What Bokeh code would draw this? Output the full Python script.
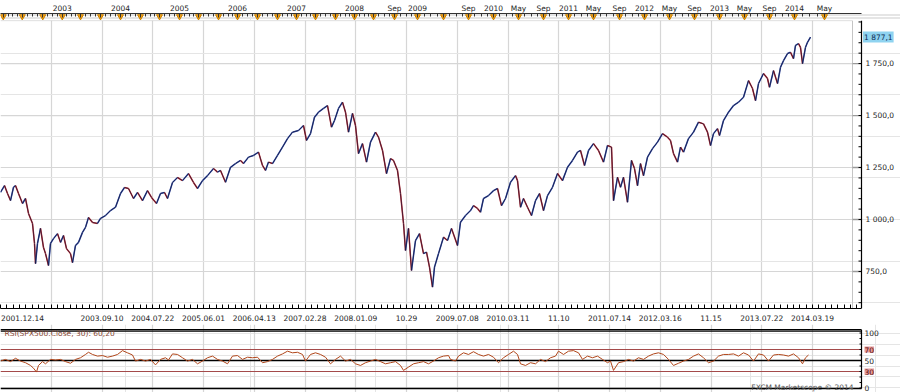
from bokeh.plotting import figure
from bokeh.models import (Range1d, FixedTicker, LinearAxis, Label, Grid)
from bokeh.layouts import column
from bokeh.embed import file_html
from bokeh.resources import INLINE
from bokeh.core.properties import value

FONT = "DejaVu Sans"

# ---------------- data (bar index / values) ----------------
price_bar = [0, 16, 28, 40, 52, 60, 72, 88, 100, 112,
             128, 136, 140, 148, 160, 172, 180, 192, 200, 212,
             228, 240, 252, 264, 280, 288, 300, 312, 328, 340,
             352, 368, 388, 400, 420, 440, 460, 480, 496, 512,
             532, 548, 568, 588, 604, 624, 640, 656, 668, 688,
             708, 728, 752, 772, 788, 808, 828, 852, 868, 880,
             900, 920, 940, 960, 972, 992, 1012, 1032, 1048, 1060,
             1072, 1088, 1108, 1128, 1148, 1168, 1192, 1212, 1224, 1240,
             1256, 1272, 1292, 1308, 1324, 1336, 1352, 1368, 1380, 1392,
             1408, 1420, 1432, 1448, 1464, 1480, 1500, 1512, 1528, 1544,
             1560, 1572, 1588, 1600, 1612, 1620, 1632, 1644, 1660, 1676,
             1692, 1704, 1716, 1728, 1736, 1752, 1772, 1788, 1804, 1828,
             1840, 1860, 1880, 1892, 1908, 1920, 1932, 1952, 1972, 1988,
             2004, 2020, 2040, 2060, 2068, 2080, 2092, 2108, 2124, 2140,
             2156, 2172, 2188, 2208, 2228, 2248, 2268, 2288, 2308, 2320,
             2336, 2352, 2372, 2392, 2412, 2428, 2444, 2452, 2468, 2480,
             2492, 2508, 2524, 2536, 2548, 2560, 2572, 2588, 2608, 2628,
             2648, 2668, 2680, 2692, 2708, 2720, 2732, 2752, 2772, 2792,
             2812, 2828, 2840, 2852, 2868, 2876, 2892, 2912, 2932, 2952,
             2972, 2992, 3008, 3020, 3032, 3052, 3068, 3076, 3092, 3108,
             3120, 3132, 3148, 3160, 3172, 3180, 3192, 3200, 3208, 3220,
             3228, 3240]
price_close = [1131, 1163, 1125, 1091, 1155, 1163, 1125, 1077, 1101, 1029,
               981, 885, 788, 885, 957, 865, 836, 779, 885, 908,
               932, 890, 923, 860, 836, 793, 875, 890, 938, 962,
               1010, 986, 981, 1005, 1019, 1043, 1059, 1125, 1154, 1149,
               1101, 1130, 1091, 1139, 1106, 1077, 1125, 1130, 1101, 1178,
               1202, 1187, 1221, 1178, 1149, 1187, 1211, 1245, 1228, 1236,
               1179, 1251, 1269, 1284, 1269, 1300, 1308, 1324, 1260, 1236,
               1276, 1269, 1308, 1348, 1389, 1420, 1428, 1452, 1380, 1413,
               1492, 1516, 1534, 1548, 1444, 1476, 1534, 1564, 1516, 1420,
               1510, 1452, 1317, 1365, 1276, 1372, 1420, 1396, 1332, 1221,
               1293, 1284, 1236, 1125, 981, 851, 957, 755, 899, 932,
               836, 843, 771, 675, 771, 836, 915, 899, 957, 875,
               987, 1019, 1043, 1067, 1053, 1035, 1101, 1115, 1139, 1149,
               1067, 1101, 1179, 1211, 1187, 1059, 1101, 1059, 1019, 1091,
               1125, 1043, 1115, 1155, 1221, 1187, 1251, 1284, 1324, 1332,
               1260, 1332, 1365, 1332, 1276, 1356, 1348, 1091, 1203, 1155,
               1203, 1083, 1284, 1245, 1163, 1269, 1211, 1300, 1341, 1372,
               1413, 1396, 1380, 1317, 1276, 1348, 1324, 1389, 1420, 1468,
               1460, 1420, 1356, 1413, 1437, 1404, 1476, 1516, 1548, 1564,
               1588, 1668, 1630, 1572, 1654, 1702, 1678, 1636, 1716, 1654,
               1732, 1764, 1798, 1804, 1774, 1837, 1846, 1828, 1750, 1828,
               1852, 1877]
last_price = 1877.1
last_price_label = "1 877,1"

rsi_bar = [0, 20, 40, 60, 80, 100, 120, 132, 144, 152,
           168, 180, 200, 220, 240, 260, 280, 300, 320, 340,
           352, 368, 388, 408, 428, 448, 468, 488, 508, 528,
           540, 560, 580, 600, 620, 640, 660, 672, 688, 708,
           728, 748, 768, 788, 808, 828, 848, 868, 888, 908,
           928, 948, 968, 988, 1008, 1028, 1048, 1068, 1088, 1108,
           1128, 1148, 1168, 1188, 1208, 1220, 1240, 1260, 1280, 1300,
           1320, 1340, 1360, 1380, 1400, 1420, 1440, 1460, 1480, 1500,
           1520, 1540, 1560, 1580, 1600, 1612, 1632, 1652, 1672, 1692,
           1712, 1732, 1752, 1772, 1792,
           1800, 1820, 1832, 1852, 1872, 1892, 1912, 1932, 1952, 1972,
           1992, 2012, 2032, 2052, 2068, 2080, 2100, 2120, 2140, 2160,
           2180, 2200, 2220, 2232, 2252, 2272, 2292, 2312, 2328, 2348,
           2368, 2388, 2408, 2428, 2440, 2452, 2472, 2492, 2512, 2532,
           2552, 2572, 2592, 2612, 2632, 2652, 2672, 2692, 2712, 2732,
           2752, 2772, 2792, 2812, 2832, 2852, 2872, 2892, 2912, 2932,
           2952, 2972, 2992, 3012, 3032, 3052, 3072, 3092, 3112, 3132,
           3152, 3172, 3192, 3208, 3220, 3232]
rsi_val = [49, 52, 48, 54, 49, 46, 41, 36, 29, 41,
           48, 44, 52, 51, 52, 48, 45, 52, 55, 61,
           65, 61, 58, 59, 56, 58, 61, 68, 64, 60,
           49, 52, 49, 52, 42, 52, 55, 51, 62, 61,
           55, 49, 52, 44, 49, 55, 58, 52, 49, 44,
           58, 59, 52, 56, 55, 56, 46, 48, 52, 58,
           62, 67, 64, 65, 61, 49, 61, 64, 61, 56,
           44, 52, 58, 49, 52, 44, 41, 46, 49, 52,
           48, 44, 46, 48, 41, 32, 38, 44, 46, 48,
           44, 49, 55, 58, 59,
           52, 49, 58, 64, 61, 66, 61, 58, 61, 56,
           46, 55, 61, 67, 61, 44, 41, 46, 44, 52,
           48, 55, 58, 67, 61, 67, 68, 64, 52, 58,
           55, 58, 52, 46, 49, 32, 46, 48, 52, 49,
           55, 52, 58, 62, 64, 61, 52, 41, 45, 49,
           52, 58, 62, 55, 46, 49, 58, 61, 61, 62,
           58, 64, 60, 49, 62, 60, 49, 60, 61, 60,
           58, 62, 55, 44, 55, 60]
rsi_title = "RSI(SPX500.Close, 30): 60,20"
rsi_ticks = [100, 50, 0]
rsi_tick_labels = ["100", "50", "0"]
rsi_bands = [70, 30]
rsi_levels = [30, 50, 70]

grid_bars = [0, 203, 406, 609, 812, 1015, 1218, 1421, 1624, 1827,
             2030, 2233, 2436, 2639, 2842, 3045, 3248]
date_bars = [88, 406, 609, 812, 1015, 1218, 1421, 1624, 1827,
             2030, 2233, 2436, 2639, 2842, 3045, 3248]
date_labels = ["2001.12.14", "2003.09.10", "2004.07.22", "2005.06.01", "2006.04.13",
               "2007.02.28", "2008.01.09", "10.29", "2009.07.08", "2010.03.11",
               "11.10", "2011.07.14", "2012.03.16", "11.15", "2013.07.22", "2014.03.19"]

top_bars = [11, 87, 169, 247, 320, 400, 480, 560, 636, 716, 792, 872, 948,
            1028, 1108, 1184, 1260, 1340, 1416, 1492, 1576, 1668, 1772, 1872,
            1972, 2072, 2172, 2272, 2372, 2476, 2576, 2676, 2776, 2876, 2976,
            3076, 3176, 3296]
top_labels = ["", "", "", "2003", "", "", "2004", "", "", "2005", "", "", "2006",
              "", "", "2007", "", "", "2008", "", "Sep", "2009", "", "Sep",
              "2010", "May", "Sep", "2011", "May", "Sep", "2012", "May", "Sep", "2013", "May",
              "Sep", "2014", "May"]

price_ticks = [750, 1000, 1250, 1500, 1750]
price_labels = ["750,0", "1 000,0", "1 250,0", "1 500,0", "1 750,0"]

# ---------------- layout constants ----------------
W = 900
X_END = 3600        # right edge of the page in bar units
AX = 3444           # right axis position
EDGE = 3408         # right edge of the plotting area
PX = 4.0            # bar units per pixel
GRID = "#d6d6d6"
TXT = "#1e1e1e"
FS = "7.5px"

xr = Range1d(0, X_END)


def base(**kw):
    return figure(width=W, output_backend="svg", toolbar_location=None,
                  x_range=xr, min_border_left=0, min_border_right=0,
                  background_fill_color="white", border_fill_color="white", **kw)


# ---- top strip: months / years ----
top = base(height=20, y_range=Range1d(0, 9), x_axis_location=None, y_axis_location=None,
           min_border_top=0, min_border_bottom=0)
top.outline_line_color = None
minor_top = []
for a, b in zip(top_bars[:-1], top_bars[1:]):
    minor_top += [a + (b - a) * i / 4 for i in (1, 2, 3)]
tax = LinearAxis(ticker=FixedTicker(ticks=top_bars, minor_ticks=minor_top),
                 major_label_overrides={b: l for b, l in zip(top_bars, top_labels)},
                 bounds=(0, AX),
                 major_tick_in=4, major_tick_out=0, minor_tick_in=3, minor_tick_out=0,
                 major_label_standoff=1, major_label_text_font=FONT,
                 major_label_text_font_size=FS, major_label_text_color=TXT,
                 axis_line_color="#333333", major_tick_line_color="#333333",
                 minor_tick_line_color="#333333")
top.add_layout(tax, "above")
top.scatter(top_bars, [5.2] * len(top_bars), marker="inverted_triangle", size=6,
            fill_color="#f2a31c", line_color="#c98100")

# ---- main price chart ----
Y0, Y1 = 572, 1957
p = base(height=304, y_range=Range1d(Y0, Y1), x_axis_location="below",
         y_axis_location=None, min_border_top=0, min_border_bottom=16)
p.outline_line_color = None
minor_bottom = [a + (b - a) * i / 8 for a, b in zip(grid_bars[:-1], grid_bars[1:]) for i in range(0, 8)]
minor_bottom += [grid_bars[-1] + (grid_bars[1]) * i / 8 for i in range(0, 8)]
xa = p.xaxis[0]
xa.ticker = FixedTicker(ticks=date_bars, minor_ticks=[m for m in minor_bottom if m <= AX])
xa.major_label_overrides = {b: l for b, l in zip(date_bars, date_labels)}
xa.bounds = (0, AX)
xa.axis_line_color = "black"
xa.axis_line_width = 1.2
xa.major_tick_in = 0
xa.major_tick_out = 0
xa.minor_tick_in = 4
xa.minor_tick_out = 0
xa.minor_tick_line_color = "black"
xa.major_label_standoff = 6
xa.major_label_text_font = FONT
xa.major_label_text_font_size = FS
xa.major_label_text_color = TXT
p.xgrid.ticker = FixedTicker(ticks=grid_bars)
p.xgrid.grid_line_color = GRID
p.xgrid.grid_line_width = 1.2

# horizontal grid lines, plot-area border and right price axis
p.segment([0] * len(price_ticks), price_ticks, [EDGE] * len(price_ticks), price_ticks,
          line_color=GRID, line_width=1.2)
p.segment([0, EDGE], [Y1 - 0.5, Y0], [EDGE, EDGE], [Y1 - 0.5, Y1], line_color="#c4c4c4", line_width=1)
p.segment([EDGE] * len(price_ticks), price_ticks, [AX] * len(price_ticks), price_ticks,
          line_color="#9a9a9a", line_width=1.3)
minor_price = list(range(600, 1951, 50))
p.segment([AX - 3 * PX] * len(minor_price), minor_price, [AX] * len(minor_price), minor_price,
          line_color="black", line_width=1)
p.segment([AX], [Y0], [AX], [Y1], line_color="black", line_width=1.2)
p.text([AX + 4 * PX] * len(price_ticks), price_ticks, text=price_labels,
       text_font=value(FONT), text_font_size=FS, text_color=TXT,
       text_align="left", text_baseline="middle")

x0, x1 = price_bar[:-1], price_bar[1:]
y0, y1 = price_close[:-1], price_close[1:]
seg_col = ["#2e4aa6" if b >= a else "#c12a2e" for a, b in zip(y0, y1)]
p.segment(x0, y0, x1, y1, line_color=seg_col, line_width=1.5)
p.line(price_bar, price_close, line_color="#151538", line_width=0.7)

p.add_layout(Label(x=AX + 1.5 * PX, y=last_price, x_units="data", y_units="data",
                   text=last_price_label, text_align="left", text_baseline="middle",
                   text_font=FONT, text_font_size=FS, text_color="#0b2a52",
                   background_fill_color="#8fd3f0", padding=1))

# ---- RSI panel ----
R0, R1 = -8.2, 115.5
r = base(height=68, y_range=Range1d(R0, R1), x_axis_location=None,
         y_axis_location=None, min_border_top=0, min_border_bottom=0)
r.outline_line_color = None
r.add_layout(Grid(dimension=0, ticker=FixedTicker(ticks=grid_bars),
                  grid_line_color=GRID, grid_line_width=1.2))
r.segment([0, 0, 0], [106.0, 103.2, -0.9], [AX, AX, AX], [106.0, 103.2, -0.9],
          line_color="black", line_width=[1.4, 1.0, 1.4])
r.segment([0] * len(rsi_levels), rsi_levels, [AX] * len(rsi_levels), rsi_levels,
          line_color=["#a44a4a" if l != 50 else "black" for l in rsi_levels],
          line_width=[1.3 if l == 50 else 1.0 for l in rsi_levels])
r.line(rsi_bar, rsi_val, line_color="#b0461a", line_width=1)
r.segment([AX], [-0.9], [AX], [106.0], line_color="black", line_width=1.2)
minor_rsi = list(range(0, 101, 10))
r.segment([AX - 2 * PX] * len(minor_rsi), minor_rsi, [AX] * len(minor_rsi), minor_rsi,
          line_color="black", line_width=1)
r.text([AX + 3 * PX] * len(rsi_ticks), rsi_ticks, text=rsi_tick_labels,
       text_font=value(FONT), text_font_size=FS, text_color=TXT,
       text_align="left", text_baseline="middle")
for lvl in rsi_bands:
    r.add_layout(Label(x=AX + 3 * PX, y=lvl, x_units="data", y_units="data", text=str(lvl),
                       text_align="left", text_baseline="middle", text_font=FONT,
                       text_font_size=FS, text_color="#5a0a0a",
                       background_fill_color="#e59a9a", padding=0))
r.add_layout(Label(x=4, y=59, x_units="screen", y_units="screen", text=rsi_title,
                   text_align="left", text_baseline="middle", text_font=FONT,
                   text_font_size=FS, text_color="#8a4a36"))
r.add_layout(Label(x=853, y=5, x_units="screen", y_units="screen",
                   text="FXCM Marketscope \u00a9 2014", text_align="right",
                   text_baseline="middle", text_font=FONT, text_font_size=FS,
                   text_color="#555555"))

layout = column(top, p, r, spacing=0)
open("out.html", "w").write(file_html(layout, INLINE))
